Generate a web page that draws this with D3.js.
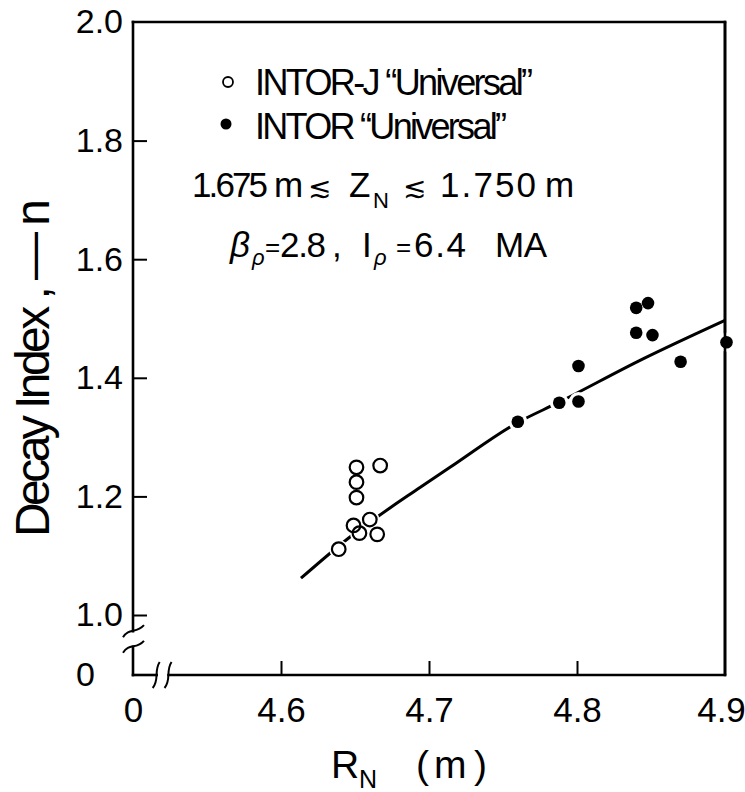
<!DOCTYPE html>
<html>
<head>
<meta charset="utf-8">
<script src="https://cdn.jsdelivr.net/npm/d3@7"></script>
<style>
  body { margin: 0; background: #fff; }
  svg text { font-family: "Liberation Sans Narrow", "Liberation Sans", "DejaVu Sans", sans-serif; fill: #000; }
</style>
</head>
<body>
<svg id="chart" width="745" height="792"></svg>
<script>
// INTOR-J "Universal" (open circles)
var openR = [4.651, 4.667, 4.651, 4.651, 4.649, 4.660, 4.653, 4.665, 4.639];
var openN = [1.249, 1.252, 1.224, 1.198, 1.151, 1.161, 1.138, 1.136, 1.111];

// INTOR "Universal" (filled dots)
var filledR = [4.760, 4.788, 4.801, 4.801, 4.840, 4.848, 4.840, 4.851, 4.870, 4.901];
var filledN = [1.326, 1.358, 1.360, 1.420, 1.518, 1.526, 1.476, 1.472, 1.427, 1.460];

// fitted curve
var fitR = [4.6135, 4.6453, 4.6939, 4.7142, 4.7595, 4.7872, 4.8446, 4.900];
var fitN = [1.062, 1.129, 1.215, 1.249, 1.324, 1.358, 1.432, 1.497];

var xTicks = [0, 4.6, 4.7, 4.8, 4.9];
var yTicks = [0, 1.0, 1.2, 1.4, 1.6, 1.8, 2.0];

var svg = d3.select('#chart');

// broken axes: 0 sits below/left of the break, real range after it
var x = d3.scaleLinear().domain([0, 4.6, 4.9]).range([133, 281, 725]);
var y = d3.scaleLinear().domain([0, 1.0, 2.0]).range([675, 615, 22]);

var x0 = x(0), x1 = x(4.9), y0 = y(0), y1 = y(2.0);

function fmt (d) { return d === 0 ? '0' : d.toFixed(1); }

// loose hand lettering: spread the letters out to a measured width
function label (px, py, str, size, len, italic) {
  var t = svg.append('text')
      .attr('x', px)
      .attr('y', py)
      .style('font-size', size + 'px')
      .text(str);
  if (len) t.attr('textLength', len).attr('lengthAdjust', 'spacing');
  if (italic) t.style('font-style', 'italic');
  return t;
}

// y axis
var gy = svg.append('g')
    .attr('transform', 'translate(' + x0 + ',0)')
    .call(d3.axisLeft(y).tickValues(yTicks).tickSizeInner(-14).tickSizeOuter(0).tickPadding(10).tickFormat(fmt));
gy.select('.domain').remove();
gy.selectAll('.tick line')
    .attr('stroke-width', 2)
    .filter(function (d) { return d === 0 || d === 2.0; }).remove();
gy.selectAll('.tick text')
    .style('font-size', '34px')
    .attr('x', function (d) { return d === 0 ? -38 : -10; });

// x axis
var gx = svg.append('g')
    .attr('transform', 'translate(0,' + y0 + ')')
    .call(d3.axisBottom(x).tickValues(xTicks).tickSizeInner(-14).tickSizeOuter(0).tickPadding(22).tickFormat(fmt));
gx.select('.domain').remove();
gx.selectAll('.tick line')
    .attr('stroke-width', 2)
    .filter(function (d) { return d === 0 || d === 4.9; }).remove();
gx.selectAll('.tick text')
    .style('font-size', '35px')
    .attr('x', function (d) { return d === 4.9 ? -4 : 0; });

// frame with breaks
var ybA = y0 + (y(1.0) - y0) * 0.73,   // upper break line
    ybB = y0 + (y(1.0) - y0) * 0.47;   // lower break line
var xbA = x0 + (x(4.6) - x0) * 0.16,
    xbB = x0 + (x(4.6) - x0) * 0.24;

var frame = [
  [[x0, y1], [x0, ybA]],
  [[x0, ybB], [x0, y0]],
  [[x0, y0], [xbA, y0]],
  [[xbB, y0], [x1, y0]],
  [[x1, y0], [x1, y1]],
  [[x1, y1], [x0, y1]]
];
svg.append('g').selectAll('line')
    .data(frame)
  .enter().append('line')
    .attr('x1', function (d) { return d[0][0]; })
    .attr('y1', function (d) { return d[0][1]; })
    .attr('x2', function (d) { return d[1][0]; })
    .attr('y2', function (d) { return d[1][1]; })
    .attr('stroke', '#000')
    .attr('stroke-width', 2.6)
    .attr('stroke-linecap', 'square');

// break marks
var breaks = svg.append('g').attr('fill', 'none').attr('stroke', '#000').attr('stroke-width', 2);
[ybA, ybB].forEach(function (yb) {
  breaks.append('path')
      .attr('d', 'M' + (x0 - 10) + ',' + (yb + 6) + ' C' + (x0 - 4) + ',' + (yb - 4) + ' ' + (x0 + 3) + ',' + (yb + 3) + ' ' + (x0 + 11) + ',' + (yb - 6));
});
[xbA, xbB].forEach(function (xb) {
  breaks.append('path')
      .attr('d', 'M' + (xb - 4) + ',' + (y0 + 13) + ' C' + (xb + 3) + ',' + (y0 + 5) + ' ' + (xb - 3) + ',' + (y0 - 4) + ' ' + (xb + 3) + ',' + (y0 - 13));
});

// fitted curve
var line = d3.line()
    .x(function (d) { return x(d[0]); })
    .y(function (d) { return y(d[1]); })
    .curve(d3.curveMonotoneX);

svg.append('path')
    .datum(d3.zip(fitR, fitN))
    .attr('d', line)
    .attr('fill', 'none')
    .attr('stroke', '#000')
    .attr('stroke-width', 3);

var openPts = d3.zip(openR, openN),
    filledPts = d3.zip(filledR, filledN);

// white halos break the curve around the markers
svg.append('g').selectAll('circle')
    .data(openPts.concat(filledPts))
  .enter().append('circle')
    .attr('cx', function (d) { return x(d[0]); })
    .attr('cy', function (d) { return y(d[1]); })
    .attr('r', 9.5)
    .attr('fill', '#fff');

// redraw right frame edge over the halo of the edge point
svg.append('line')
    .attr('x1', x1).attr('x2', x1).attr('y1', y1).attr('y2', y0)
    .attr('stroke', '#000').attr('stroke-width', 2.6);

svg.append('g').selectAll('circle')
    .data(openPts)
  .enter().append('circle')
    .attr('cx', function (d) { return x(d[0]); })
    .attr('cy', function (d) { return y(d[1]); })
    .attr('r', 6.8)
    .attr('fill', 'none')
    .attr('stroke', '#000')
    .attr('stroke-width', 2.2);

svg.append('g').selectAll('circle')
    .data(filledPts)
  .enter().append('circle')
    .attr('cx', function (d) { return x(d[0]); })
    .attr('cy', function (d) { return y(d[1]); })
    .attr('r', 6.3)
    .attr('fill', '#000');

// legend
svg.append('circle').attr('cx', 228).attr('cy', 82).attr('r', 5)
    .attr('fill', 'none').attr('stroke', '#000').attr('stroke-width', 1.8);
svg.append('circle').attr('cx', 226).attr('cy', 124).attr('r', 5.5).attr('fill', '#000');

label(255, 95, 'INTOR-J \u201cUniversal\u201d', 36, 278);
label(255, 139, 'INTOR \u201cUniversal\u201d', 36, 252);

label(192, 197, '1.675', 35, 76);
label(274, 197, 'm', 35);
label(308, 197, '\u2272', 28);
label(349, 197, 'Z', 35);
label(373, 208, 'N', 22);
label(403, 197, '\u2272', 28);
label(440, 197, '1.750', 35, 96);
label(545, 197, 'm', 35);

label(230, 257, '\u03b2', 35, null, true);
label(252, 265, '\u03c1', 22, null, true);
label(265, 256, '=', 26);
label(280, 257, '2.8', 35, 46);
label(332, 257, ',', 35);
label(362, 257, 'I', 35);
label(374, 265, '\u03c1', 22, null, true);
label(396, 256, '=', 26);
label(414, 257, '6.4', 35, 52);
label(495, 257, 'MA', 35, 52);

// axis titles
svg.append('text')
    .attr('transform', 'translate(49,368) rotate(-90)')
    .attr('text-anchor', 'middle')
    .attr('textLength', 338)
    .attr('lengthAdjust', 'spacing')
    .style('font-size', '48px')
    .text('Decay Index ,  \u2014 n');

label(331, 778, 'R', 39);
label(359, 788, 'N', 25);
label(416, 778, '(', 39);
label(434, 778, 'm', 39);
label(474, 778, ')', 39);
</script>
</body>
</html>
